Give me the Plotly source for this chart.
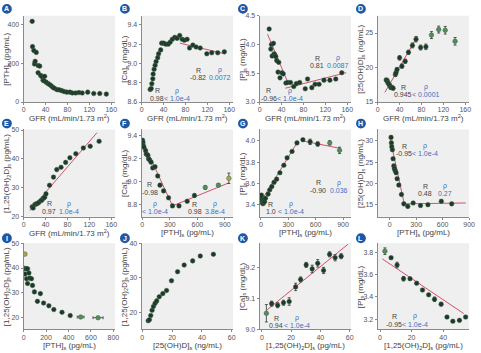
import plotly.graph_objects as go

W, H = 481, 353

# ---------------- data ----------------
A_gfr = [15.6, 16.2, 18.6, 23, 19.8, 21, 26.4, 29.4, 26.4, 31, 33.6, 35.4, 38.4, 37.2, 41, 44.3, 47.2, 50.3,
         53.3, 56.3, 61, 65, 69.5, 74, 79, 84.5, 89, 95, 101, 107, 117, 128, 139, 151]
A_pth = [418, 287, 267, 257, 197, 211, 189, 186, 152, 138, 131, 113, 133, 110, 103, 96, 91, 84,
         76, 71, 64, 63, 59, 54, 51, 51, 47, 47, 49, 47, 51, 44, 44, 41]

B_gfr = [15.6, 17.4, 18.6, 20.4, 21, 22.8, 24.6, 26.4, 29.4, 31, 34.8, 36.6, 40, 44, 48.5, 52, 56, 60.5,
         64.7, 69.5, 74, 78, 83, 87.5, 93.5, 99.5, 107, 119, 128, 139, 151]
B_ca = [8.73, 8.74, 8.79, 8.84, 8.89, 8.94, 8.98, 9.02, 9.06, 9.10, 9.14, 9.21, 9.21, 9.20, 9.20, 9.22, 9.25, 9.27,
        9.26, 9.29, 9.25, 9.24, 9.25, 9.16, 9.19, 9.17, 9.16, 9.10, 9.11, 9.11, 9.12]
B_fit_x = [70, 152]
B_fit_y = [9.21, 9.10]
B_stats = [("0.98", "< 1.0e-4"), ("-0.82", "0.0072")]

C_gfr = [17.4, 20.4, 21.6, 25.2, 22.8, 26.4, 27.6, 29.4, 31.2, 34.8, 33.6, 37.2, 40.7, 43.1, 47.9, 51.5, 56.3,
         62.3, 67.1, 73.1, 83.3, 87.5, 95.3, 101.3, 108.5, 117.5, 128.2, 139, 150]
C_p = [4.27, 3.92, 4.00, 4.02, 3.80, 3.84, 3.82, 3.79, 3.72, 3.69, 3.52, 3.42, 3.51, 3.49, 3.33, 3.34, 3.34,
       3.27, 3.32, 3.34, 3.23, 3.40, 3.25, 3.31, 3.31, 3.38, 3.38, 3.40, 3.51]
C_fit1_x = [14.4, 51]
C_fit1_y = [4.18, 3.35]
C_fit2_x = [47, 158]
C_fit2_y = [3.24, 3.51]
C_stats = [("-0.96", "< 1.0e-4"), ("0.81", "0.0087")]

D_gfr = [15.6, 17.4, 18.6, 20.4, 22.2, 24, 26.4, 28.2, 32.4, 33.6, 35.4, 40.1, 44.3, 50.3, 56.3, 63.5, 70.1,
         78.5, 88.1, 98.3, 111.5, 123.4, 141.4]
D_vd = [18.2, 18.1, 17.8, 17.6, 17.4, 17.1, 17.1, 17.0, 19.0, 19.25, 19.7, 21.4, 20.2, 20.9, 22.2, 23.2, 24.1,
        22.9, 23.0, 24.7, 25.5, 25.4, 23.8]
D_err = [0.25, 0.25, 0.25, 0.25, 0.25, 0.25, 0.25, 0.25, 0.3, 0.3, 0.3, 0.3, 0.3, 0.3, 0.3, 0.35, 0.4,
         0.35, 0.4, 0.5, 0.5, 0.55, 0.55]
D_fit_x = [13.2, 72.5]
D_fit_y = [16.4, 24.5]
D_stats = [("0.945", "< 0.0001")]

E_gfr = [15.6, 17.4, 20.4, 22.8, 25.2, 27.6, 31.2, 33.6, 36, 38.4, 40.8, 47.3, 54.5, 60.5, 68.3, 76.7, 84.5,
         95.3, 109, 121.6, 137.8]
E_d125 = [23.4, 23.0, 24.2, 24.4, 24.6, 24.9, 25.5, 25.8, 26.4, 26.7, 27.9, 30.9, 33.7, 36.3, 37.1, 38.8, 40.4,
          41.8, 43.8, 44.4, 46.1]
E_fit_x = [11.4, 134]
E_fit_y = [22.1, 49.1]
E_stats = [("0.97", "1.0e-4")]

F_pth = [3, 8, 5, 12, 18, 36, 43, 61, 68, 79, 96, 114, 139, 168, 193, 232, 286, 329, 400, 489, 568, 686, 829, 943]
F_ca = [9.36, 9.34, 9.32, 9.31, 9.30, 9.27, 9.24, 9.23, 9.20, 9.19, 9.17, 9.12, 9.13, 9.05, 8.97, 8.92, 8.86,
        8.79, 8.79, 8.83, 8.88, 8.95, 8.97, 9.03]
F_err = [0.01, 0.01, 0.01, 0.01, 0.01, 0.012, 0.012, 0.012, 0.012, 0.012, 0.012, 0.012, 0.012, 0.012, 0.012,
         0.012, 0.012, 0.01, 0.01, 0.012, 0.015, 0.015, 0.012, 0.045]
F_fit1_x = [0, 329]
F_fit1_y = [9.36, 8.79]
F_fit2_x = [329, 943]
F_fit2_y = [8.79, 8.99]
F_stats = [("-0.98", "< 1.0e-4"), ("0.98", "3.8e-4")]

G_pth = [2, 4, 6, 10, 14, 18, 22, 26, 32, 40, 50, 79, 97, 119, 144, 172, 208, 251, 287, 341, 395, 460, 539,
         622, 754, 862]
G_p = [3.47, 3.44, 3.49, 3.45, 3.42, 3.43, 3.41, 3.44, 3.42, 3.43, 3.46, 3.50, 3.54, 3.57, 3.61, 3.64, 3.70,
       3.77, 3.84, 3.90, 3.98, 4.01, 3.99, 3.97, 3.98, 3.91]
G_err = [0.01] * 21 + [0.01, 0.025, 0.02, 0.02, 0.03]
G_fit1_x = [0, 395]
G_fit1_y = [3.43, 3.98]
G_fit2_x = [449, 862]
G_fit2_y = [4.00, 3.93]
G_stats = [("1.0", "< 1.0e-4"), ("-0.90", "0.036")]

H_pth = [15, 19, 23, 30, 38, 46, 53, 61, 72, 84, 103, 133, 160, 205, 266, 349, 433, 585, 703]
H_vd = [30.8, 29.5, 28.6, 27.9, 25.8, 24.1, 23.5, 23.0, 22.5, 21.1, 19.6, 17.4, 15.2, 14.6, 15.4, 14.8, 15.0,
        15.8, 15.2]
H_err = [0.3] * 19
H_fit1_x = [8, 167]
H_fit1_y = [30.2, 15.0]
H_fit2_x = [160, 862]
H_fit2_y = [15.2, 15.4]
H_stats = [("-0.95", "< 1.0e-4"), ("0.48", "0.27")]

I_pth = [12, 6, 18, 25, 35, 12, 47, 26, 55, 70, 35, 79, 96, 149, 123, 178, 225, 269, 342, 415, 508, 663]
I_d125 = [45.6, 39.9, 39.7, 39.7, 39.7, 37.6, 38.0, 35.7, 36.0, 35.7, 33.8, 33.0, 30.4, 29.7, 26.6, 25.9, 24.8,
          23.3, 22.2, 20.9, 20.3, 20.0]
I_xerr = [0] * 20 + [30, 45]

J_vd = [4, 4.8, 5.7, 6.6, 7.5, 8.6, 9.7, 11.4, 13.8, 16.3, 19.6, 23.7, 28.1, 33.8, 38.9, 47.7]
J_d125 = [17.7, 18.0, 19.2, 20.7, 21.8, 22.7, 23.4, 24.6, 25.5, 26.4, 29.2, 31.8, 33.7, 34.9, 36.3, 36.8]

K_d125 = [3.1, 6.7, 10.8, 14.8, 18.7, 23.1, 26.5, 30.3, 34.4, 38.2, 42.2, 46.3, 50.1, 54.2]
K_ca = [9.052, 9.083, 9.078, 9.086, 9.09, 9.137, 9.161, 9.208, 9.195, 9.213, 9.19, 9.242, 9.231, 9.236]
K_err = [0.028, 0.008, 0.008, 0.008, 0.012, 0.012, 0.008, 0.008, 0.012, 0.012, 0.01, 0.008, 0.01, 0.008]
K_fit_x = [3.6, 59]
K_fit_y = [9.063, 9.275]
K_stats = [("0.94", "< 1.0e-4")]

L_d125 = [3.1, 7.0, 10.8, 14.9, 19.0, 23.2, 26.9, 30.8, 34.5, 38.7, 42.4, 46.1, 50.3, 54.2]
L_p = [3.815, 3.756, 3.69, 3.566, 3.566, 3.525, 3.463, 3.42, 3.379, 3.335, 3.218, 3.18, 3.188, 3.218]
L_err = [0.03, 0.012, 0.025, 0.02, 0.012, 0.012, 0.01, 0.01, 0.02, 0.015, 0.01, 0.01, 0.01, 0.01]
L_fit_x = [1.5, 53]
L_fit_y = [3.745, 3.25]
L_stats = [("-0.95", "< 1.0e-4")]

# ---------------- axis text ----------------
T_GFR = "GFR (mL/min/1.73 m<sup>2</sup>)"
T_PTH = "[PTH]<sub>s</sub> (pg/mL)"
T_CA = "[Ca]<sub>s</sub> (mg/dL)"
T_P = "[P]<sub>s</sub> (mg/dL)"
T_25 = "[25(OH)D]<sub>s</sub> (ng/mL)"
T_125 = "[1,25(OH)<sub>2</sub>D]<sub>s</sub> (pg/mL)"

# ---------------- style ----------------
FONT = "Arial, Liberation Sans, sans-serif"
DARK = "#1d3a28"
EDGE = "#3f5f48"
LIGHT = "#4f8f58"
YELL = "#a8a84a"
RED = "#d4506c"
BLUE = "#3d6fc4"
GREY_T = "#444444"

cols_px = [(22, 115), (142, 235), (262, 355), (382, 475)]
rows_px = [(12, 100), (128, 217), (244, 332)]

fig = go.Figure()


def dom(i):
    c = i % 4
    r = i // 4
    x0, x1 = cols_px[c]
    y0, y1 = rows_px[r]
    return [x0 / W, x1 / W], [1 - y1 / H, 1 - y0 / H]


panels = [
    ("A", A_gfr, A_pth, [0, 167], [0, 447], [0, 40, 80, 120, 160], [0, 200, 400], T_GFR, T_PTH, None),
    ("B", B_gfr, B_ca, [0, 167], [8.6, 9.494], [0, 40, 80, 120, 160], [8.6, 8.8, 9.0, 9.2, 9.4], T_GFR, T_CA, ".1f"),
    ("C", C_gfr, C_p, [0, 167], [3.0, 4.5], [0, 40, 80, 120, 160], [3.0, 3.5, 4.0, 4.5], T_GFR, T_P, ".1f"),
    ("D", D_gfr, D_vd, [0, 167], [15, 27.5], [0, 40, 80, 120, 160], [15, 20, 25], T_GFR, T_25, None),
    ("E", E_gfr, E_d125, [0, 167], [20, 50.2], [0, 40, 80, 120, 160], [20, 30, 40, 50], T_GFR, T_125, None),
    ("F", F_pth, F_ca, [-7, 989], [8.696, 9.454], [0, 300, 600, 900], [8.8, 9.0, 9.2, 9.4], T_PTH, T_CA, ".1f"),
    ("G", G_pth, G_p, [-14, 988], [3.288, 4.106], [0, 300, 600, 900], [3.4, 3.6, 3.8, 4.0], T_PTH, T_P, ".1f"),
    ("H", H_pth, H_vd, [-137, 900], [12.18, 32.66], [0, 300, 600, 900], [15, 20, 25, 30], T_PTH, T_25, None),
    ("I", I_pth, I_d125, [0, 815], [15.3, 50], [0, 200, 400, 600, 800], [20, 30, 40, 50], T_PTH, T_125, None),
    ("J", J_vd, J_d125, [-0.4, 60.9], [15.2, 40], [0, 20, 40, 60], [20, 30, 40], T_25, T_125, None),
    ("K", K_d125, K_ca, [-1.5, 61], [9.0, 9.278], [0, 20, 40, 60], [9.0, 9.1, 9.2], T_125, T_CA, ".1f"),
    ("L", L_d125, L_p, [-1.5, 56.4], [3.106, 3.888], [0, 20, 40], [3.2, 3.4, 3.6, 3.8], T_125, T_P, ".1f"),
]

err_y = {"D": D_err, "F": F_err, "G": G_err, "H": H_err, "K": K_err, "L": L_err}
err_x = {"I": I_xerr}
highlight = {
    "D": {19: LIGHT, 20: LIGHT, 21: LIGHT, 22: LIGHT},
    "F": {21: LIGHT, 22: LIGHT, 23: YELL},
    "G": {24: LIGHT, 25: LIGHT},
    "I": {0: YELL, 1: LIGHT, 20: LIGHT, 21: LIGHT},
    "K": {0: LIGHT},
    "L": {0: LIGHT},
}
fits = {
    "B": [(B_fit_x, B_fit_y)],
    "C": [(C_fit1_x, C_fit1_y), (C_fit2_x, C_fit2_y)],
    "D": [(D_fit_x, D_fit_y)],
    "E": [(E_fit_x, E_fit_y)],
    "F": [(F_fit1_x, F_fit1_y), (F_fit2_x, F_fit2_y)],
    "G": [(G_fit1_x, G_fit1_y), (G_fit2_x, G_fit2_y)],
    "H": [(H_fit1_x, H_fit1_y), (H_fit2_x, H_fit2_y)],
    "K": [(K_fit_x, K_fit_y)],
    "L": [(L_fit_x, L_fit_y)],
}
stats = {"B": B_stats, "C": C_stats, "D": D_stats, "E": E_stats, "F": F_stats, "G": G_stats,
         "H": H_stats, "K": K_stats, "L": L_stats}
stat_pos = {
    "B": [(0.17, 0.13, 0.39, 0.13), (0.62, 0.37, 0.86, 0.37)],
    "C": [(0.10, 0.13, 0.33, 0.13), (0.63, 0.51, 0.86, 0.51)],
    "D": [(0.28, 0.17, 0.53, 0.17)],
    "E": [(0.28, 0.15, 0.50, 0.15)],
    "F": [(0.09, 0.37, 0.15, 0.145), (0.58, 0.145, 0.80, 0.145)],
    "G": [(0.12, 0.145, 0.34, 0.145), (0.64, 0.39, 0.87, 0.39)],
    "H": [(0.29, 0.81, 0.52, 0.81), (0.52, 0.35, 0.74, 0.35)],
    "K": [(0.18, 0.13, 0.41, 0.13)],
    "L": [(0.18, 0.15, 0.41, 0.15)],
}
LINE_GAP = 0.088

ytitle_x = [5, 125, 245, 365]
xtitle_y = [116.5, 233.5, 349]
badge_c = [5, 125, 245, 365]
badge_rows = [5, 122, 239]

annotations = []
shapes = []
for i, (let, xs, ys, xr, yr, xt, yt, xtitle, ytitle, yfmt) in enumerate(panels):
    n = i + 1
    xa = "x" if n == 1 else f"x{n}"
    ya = "y" if n == 1 else f"y{n}"
    xd, yd = dom(i)
    axcommon = dict(showline=True, linecolor="#8a8a8a", linewidth=1, ticks="outside", ticklen=2,
                    tickcolor="#8a8a8a", tickwidth=1, showgrid=False, zeroline=False,
                    tickfont=dict(size=7, color="#555555", family=FONT))
    fig.layout[f"xaxis{'' if n == 1 else n}"] = dict(domain=xd, range=xr, tickvals=xt, anchor=ya,
                                                      ticklabelstandoff=-1, **axcommon)
    yax = dict(domain=yd, range=yr, tickvals=yt, anchor=xa, **axcommon)
    if yfmt:
        yax["tickformat"] = yfmt
    fig.layout[f"yaxis{'' if n == 1 else n}"] = yax

    for fx, fy in fits.get(let, []):
        fig.add_trace(go.Scatter(x=fx, y=fy, mode="lines", line=dict(color=RED, width=1),
                                 xaxis=xa, yaxis=ya, showlegend=False, hoverinfo="skip"))

    cols = [DARK] * len(xs)
    for k, c in highlight.get(let, {}).items():
        cols[k] = c
    tr = dict(x=xs, y=ys, mode="markers", xaxis=xa, yaxis=ya, showlegend=False,
              marker=dict(size=4.6, color=cols, line=dict(width=0.5, color=EDGE)))
    if let in err_y:
        tr["error_y"] = dict(type="data", array=err_y[let], color="#333333", thickness=0.8, width=1.5)
    if let in err_x:
        tr["error_x"] = dict(type="data", array=err_x[let], color="#333333", thickness=0.8, width=1.5)
    fig.add_trace(go.Scatter(**tr))

    for (rv, pv), (rx, ry, px, py) in zip(stats.get(let, []), stat_pos.get(let, [])):
        for tx, x, y, col in [("R", rx, ry, GREY_T), (rv, rx, ry - LINE_GAP, GREY_T),
                              ("\u03c1", px, py, BLUE), (pv, px, py - LINE_GAP, BLUE)]:
            annotations.append(dict(text=tx, x=x, y=y, xref=f"{xa} domain", yref=f"{ya} domain",
                                    showarrow=False, xanchor="center", yanchor="middle",
                                    font=dict(size=7, color=col, family=FONT)))

    c = i % 4
    r = i // 4
    y0, y1 = rows_px[r]
    x0, x1 = cols_px[c]
    annotations.append(dict(text=ytitle, x=ytitle_x[c] / W, y=1 - (y0 + y1) / 2 / H, xref="paper", yref="paper",
                            showarrow=False, textangle=-90, xanchor="center", yanchor="middle",
                            font=dict(size=8, color=GREY_T, family=FONT)))
    annotations.append(dict(text=xtitle, x=(x0 + x1) / 2 / W, y=1 - xtitle_y[r] / H, xref="paper", yref="paper",
                            showarrow=False, xanchor="center", yanchor="middle",
                            font=dict(size=8, color=GREY_T, family=FONT)))
    bx = badge_c[c]
    by = badge_rows[r]
    rad = 5
    shapes.append(dict(type="circle", xref="paper", yref="paper",
                       x0=(bx - rad) / W, x1=(bx + rad) / W, y0=1 - (by + rad) / H, y1=1 - (by - rad) / H,
                       fillcolor="#1f57a5", line=dict(width=0)))
    annotations.append(dict(text=f"<b>{let}</b>", x=bx / W, y=1 - by / H, xref="paper", yref="paper",
                            showarrow=False, xanchor="center", yanchor="middle",
                            font=dict(size=7, color="white", family=FONT)))

    shapes.append(dict(type="rect", xref=f"{xa} domain", yref=f"{ya} domain", x0=0, x1=1, y0=0, y1=1,
                       fillcolor="#efefef", line=dict(width=0), layer="below"))

fig.update_layout(width=W, height=H, margin=dict(l=0, r=0, t=0, b=0), paper_bgcolor="white",
                  plot_bgcolor="rgba(0,0,0,0)", annotations=annotations, shapes=shapes,
                  font=dict(family=FONT))
fig.write_html("out.html")
